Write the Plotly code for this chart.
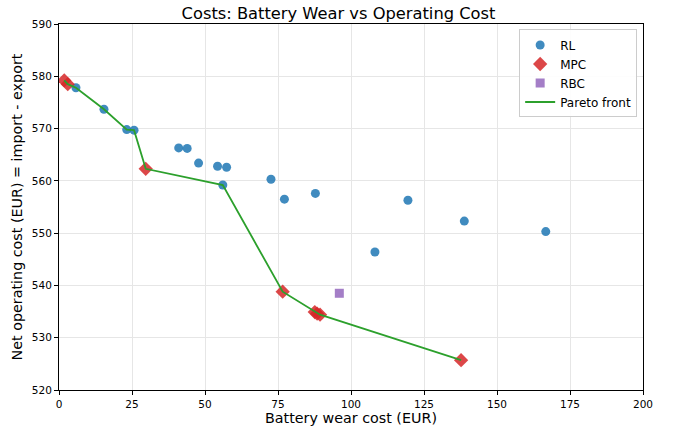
import plotly.graph_objects as go

# Battery wear cost (EUR) and net operating cost (EUR) per controller run
rl_wear = [5.8, 15.4, 23.2, 25.7, 41.0, 43.9, 47.8, 54.3, 57.4, 56.1, 72.6, 77.2, 87.8, 108.2, 119.5, 138.8, 166.7]
rl_cost = [577.8, 573.7, 569.8, 569.7, 566.3, 566.2, 563.4, 562.8, 562.6, 559.2, 560.3, 556.5, 557.6, 546.4, 556.3, 552.3, 550.3]

mpc_wear = [1.8, 3.0, 29.7, 76.6, 87.6, 88.4, 89.4, 137.7]
mpc_cost = [579.2, 578.5, 562.3, 538.8, 534.9, 534.6, 534.4, 525.7]

rbc_wear = [96.0]
rbc_cost = [538.5]

# Non-dominated points across all controllers (lower is better on both axes)
pts = sorted(zip(rl_wear + mpc_wear + rbc_wear, rl_cost + mpc_cost + rbc_cost))
front_x, front_y = [], []
best = float("inf")
for x, y in pts:
    if y < best:
        front_x.append(x)
        front_y.append(y)
        best = y

FONT = "DejaVu Sans"

fig = go.Figure()
fig.add_trace(go.Scatter(
    x=rl_wear, y=rl_cost, mode="markers", name="RL",
    marker=dict(symbol="circle", size=9, color="#1f77b4", opacity=0.85, line=dict(width=0)),
))
fig.add_trace(go.Scatter(
    x=mpc_wear, y=mpc_cost, mode="markers", name="MPC",
    marker=dict(symbol="diamond", size=11, color="#d62728", opacity=0.85, line=dict(width=0)),
))
fig.add_trace(go.Scatter(
    x=rbc_wear, y=rbc_cost, mode="markers", name="RBC",
    marker=dict(symbol="square", size=9, color="#9467bd", opacity=0.85, line=dict(width=0)),
))
fig.add_trace(go.Scatter(
    x=front_x, y=front_y, mode="lines", name="Pareto front",
    line=dict(color="#2ca02c", width=1.8),
))

axis_common = dict(
    showline=True, linecolor="black", linewidth=1, mirror=True,
    ticks="outside", ticklen=4, tickcolor="black",
    showgrid=True, gridcolor="#e6e6e6", gridwidth=1,
    zeroline=False, tickfont=dict(family=FONT, size=10.5, color="black"),
)

fig.update_layout(
    width=677, height=435,
    margin=dict(l=59, r=34, t=24, b=45),
    paper_bgcolor="white", plot_bgcolor="white",
    font=dict(family=FONT, color="black"),
    title=dict(text="Costs: Battery Wear vs Operating Cost", x=0.5, xanchor="center",
               y=1 - 13 / 435, yanchor="middle", font=dict(family=FONT, size=16.3)),
    xaxis=dict(range=[0, 200], dtick=25,
               title=dict(text="Battery wear cost (EUR)", font=dict(family=FONT, size=14.3), standoff=4),
               **axis_common),
    yaxis=dict(range=[520, 590], dtick=10,
               title=dict(text="Net operating cost (EUR) = import - export", font=dict(family=FONT, size=14.3), standoff=5),
               **axis_common),
    legend=dict(x=0.99, y=0.985, xanchor="right", yanchor="top",
                bgcolor="rgba(255,255,255,0.9)", bordercolor="#cccccc", borderwidth=1,
                font=dict(family=FONT, size=12), tracegroupgap=0),
    showlegend=True,
)

fig.write_html("out.html")
